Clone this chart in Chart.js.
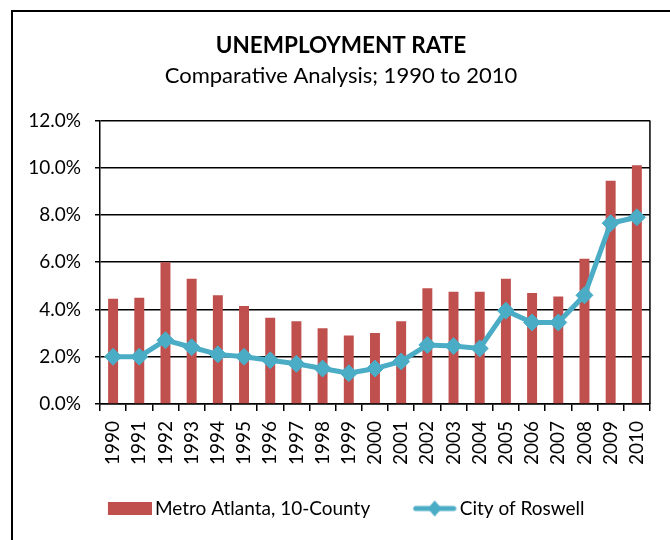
<!DOCTYPE html>
<html>
<head>
<meta charset="utf-8">
<script src="https://cdn.jsdelivr.net/npm/chart.js@4.4.1/dist/chart.umd.min.js"></script>
<style>
  html, body { margin: 0; padding: 0; background: #fff; }
  #wrap { width: 670px; height: 540px; }
</style>
</head>
<body>
<div id="wrap"><canvas id="myChart" width="670" height="540"></canvas></div>
<script>
// Unemployment rate, percent
const years = ["1990", "1991", "1992", "1993", "1994", "1995", "1996", "1997", "1998", "1999", "2000",
               "2001", "2002", "2003", "2004", "2005", "2006", "2007", "2008", "2009", "2010"];
const metroAtlanta = [4.45, 4.5, 6.0, 5.3, 4.6, 4.15, 3.65, 3.5, 3.2, 2.9, 3.0,
                      3.5, 4.9, 4.75, 4.75, 5.3, 4.7, 4.55, 6.15, 9.45, 10.1];
const roswell = [2.0, 2.0, 2.7, 2.4, 2.1, 2.0, 1.85, 1.7, 1.5, 1.3, 1.5,
                 1.8, 2.5, 2.45, 2.35, 3.95, 3.45, 3.45, 4.6, 7.65, 7.9];
const yTicks = [0, 2, 4, 6, 8, 10, 12];

const RED = "#C0504D";
const BLUE = "#4BACC6";
const FONT = "Lato, 'Open Sans', sans-serif";

// légende : largeur de la case et taille de police
const LEG_FONT = 19;
const LEG_BOX = 48;

drawChart();

function legendIcons() {
    // la case est centrée sur LEG_BOX/2, le dessin finit 3px avant le texte
    const right = LEG_BOX + LEG_FONT / 2 - 3;
    const w = Math.round(2 * (right - LEG_BOX / 2));

    const box = document.createElement("canvas");
    box.width = w; box.height = 13;
    let c = box.getContext("2d");
    c.fillStyle = RED;
    c.fillRect(w - 44, 0, 44, 13);

    const line = document.createElement("canvas");
    line.width = w; line.height = 18;
    c = line.getContext("2d");
    const x0 = w - 44;
    c.strokeStyle = BLUE;
    c.lineWidth = 5;
    c.lineCap = "round";
    c.beginPath(); c.moveTo(x0 + 3, 9); c.lineTo(x0 + 41, 9); c.stroke();
    c.fillStyle = BLUE;
    c.beginPath();
    c.moveTo(x0 + 22, 1); c.lineTo(x0 + 29, 9); c.lineTo(x0 + 22, 17); c.lineTo(x0 + 15, 9);
    c.closePath(); c.fill();
    return [box, line];
}

function drawChart() {
    const icons = legendIcons();

    // cadre extérieur + bord droit de la zone de tracé
    const frame = {
        id: "frame",
        beforeDraw(chart) {
            const ctx = chart.ctx;
            ctx.save();
            ctx.fillStyle = "#fff";
            ctx.fillRect(0, 0, chart.width, chart.height);
            ctx.strokeStyle = "#000";
            ctx.lineWidth = 2;
            ctx.strokeRect(12, 11, 700, 600);
            ctx.restore();
        },
        afterDatasetsDraw(chart) {
            const a = chart.chartArea;
            const ctx = chart.ctx;
            ctx.save();
            ctx.strokeStyle = "#000";
            ctx.lineWidth = 1.5;
            ctx.beginPath();
            ctx.moveTo(a.right, a.top);
            ctx.lineTo(a.right, a.bottom);
            ctx.stroke();
            ctx.restore();
        }
    };

    const config = {
        type: "bar",
        data: {
            labels: years,
            datasets: [
                {
                    type: "bar",
                    label: "Metro Atlanta, 10-County",
                    data: metroAtlanta,
                    backgroundColor: RED,
                    barPercentage: 0.38,
                    categoryPercentage: 1.0,
                    order: 2
                },
                {
                    type: "line",
                    label: "City of Roswell",
                    data: roswell,
                    borderColor: BLUE,
                    backgroundColor: BLUE,
                    borderWidth: 5,
                    tension: 0,
                    pointStyle: "rectRot",
                    pointRadius: 8.5,
                    pointBorderWidth: 1,
                    pointBackgroundColor: BLUE,
                    pointBorderColor: BLUE,
                    order: 1
                }
            ]
        },
        options: {
            responsive: false,
            animation: false,
            layout: { padding: { top: 12, left: 27, right: 15, bottom: 12 } },
            plugins: {
                title: {
                    display: true,
                    text: "UNEMPLOYMENT RATE",
                    color: "#000",
                    font: { family: FONT, size: 22.5, weight: "bold" },
                    padding: { top: 20, bottom: 4 }
                },
                subtitle: {
                    display: true,
                    text: "Comparative Analysis; 1990 to 2010",
                    color: "#000",
                    font: { family: FONT, size: 22, weight: "normal" },
                    padding: { top: 0, bottom: 31 }
                },
                legend: {
                    position: "bottom",
                    labels: {
                        color: "#000",
                        font: { family: FONT, size: LEG_FONT },
                        usePointStyle: true,
                        pointStyleWidth: LEG_BOX,
                        padding: 32,
                        generateLabels: () => [
                            { text: "Metro Atlanta, 10-County", pointStyle: icons[0], datasetIndex: 0, lineWidth: 0, fontColor: "#000" },
                            { text: "City of Roswell", pointStyle: icons[1], datasetIndex: 1, lineWidth: 0, fontColor: "#000" }
                        ]
                    }
                },
                tooltip: { enabled: false }
            },
            scales: {
                x: {
                    offset: true,
                    afterFit: (scale) => { scale.height = 63; },
                    grid: {
                        offset: true,
                        drawOnChartArea: false,
                        drawTicks: true,
                        tickLength: 7,
                        color: "#000",
                        lineWidth: 1.5
                    },
                    border: { color: "#000", width: 1.5 },
                    ticks: {
                        color: "#000",
                        font: { family: FONT, size: 19 },
                        minRotation: 90,
                        maxRotation: 90,
                        padding: 10,
                        autoSkip: false
                    }
                },
                y: {
                    min: 0,
                    max: 12,
                    afterFit: (scale) => { scale.width = 73; },
                    afterBuildTicks: (scale) => { scale.ticks = yTicks.map(v => ({ value: v })); },
                    grid: { color: "#000", lineWidth: 1.5, tickLength: 5 },
                    border: { color: "#000", width: 1.5 },
                    ticks: {
                        color: "#000",
                        font: { family: FONT, size: 19 },
                        padding: 14,
                        callback: (v) => v.toFixed(1) + "%"
                    }
                }
            }
        },
        plugins: [frame]
    };

    new Chart(document.getElementById("myChart"), config);
}
</script>
</body>
</html>
